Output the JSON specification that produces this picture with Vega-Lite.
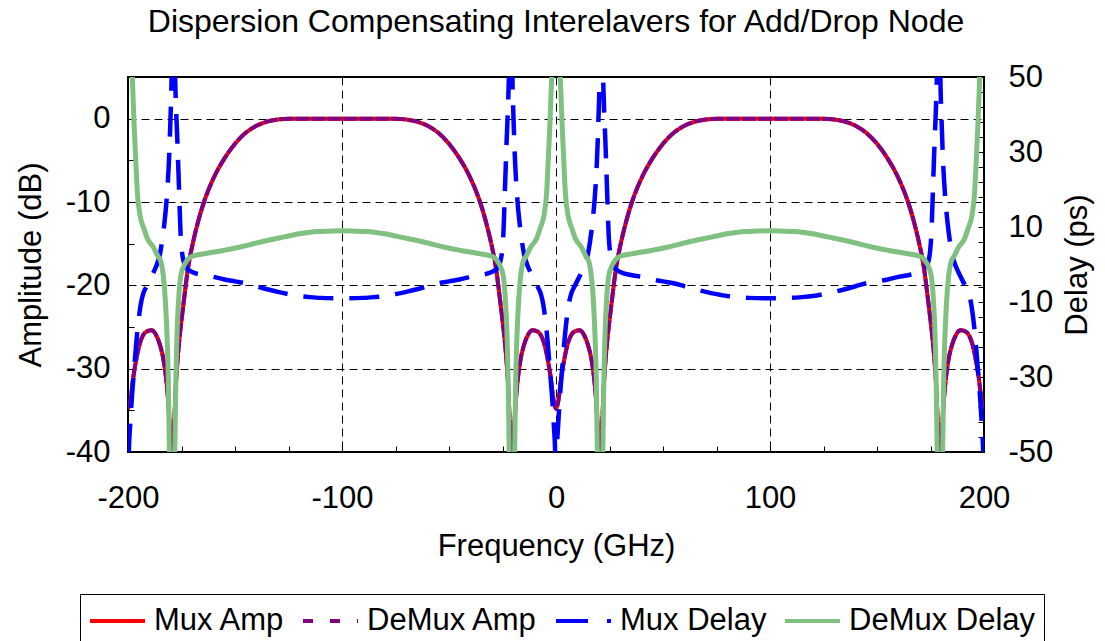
{
  "$schema": "https://vega.github.io/schema/vega-lite/v6.json",
  "width": 856,
  "height": 375,
  "autosize": {"type": "none"},
  "padding": {"left": 128, "top": 77, "right": 121, "bottom": 189},
  "background": "white",
  "title": {
    "text": "Dispersion Compensating Interelavers for Add/Drop Node",
    "font": "Liberation Sans",
    "fontSize": 32,
    "fontWeight": "normal",
    "color": "black",
    "anchor": "middle",
    "frame": "group",
    "offset": 22
  },
  "config": {
    "font": "Liberation Sans",
    "view": {"stroke": "black", "strokeWidth": 2},
    "axis": {
      "labelFont": "Liberation Sans",
      "labelFontSize": 31,
      "labelColor": "black",
      "titleFont": "Liberation Sans",
      "titleFontSize": 31,
      "titleFontWeight": "normal",
      "titleColor": "black",
      "domain": false,
      "tickSize": -6,
      "tickColor": "black",
      "tickWidth": 1,
      "gridColor": "black",
      "gridDash": [8, 5],
      "gridWidth": 1,
      "labelFlush": false,
      "labelOverlap": false
    },
    "legend": {
      "labelFont": "Liberation Sans",
      "labelFontSize": 31,
      "labelColor": "black",
      "labelLimit": 400
    }
  },
  "datasets": {
    "amp": [
      {"f": -200, "a": -34.8}, {"f": -199, "a": -34.0}, {"f": -197.5, "a": -31.0}, {"f": -196, "a": -28.7},
      {"f": -194.5, "a": -27.0}, {"f": -193, "a": -26.0}, {"f": -191, "a": -25.5}, {"f": -189, "a": -25.4},
      {"f": -187, "a": -25.9}, {"f": -185, "a": -27.2}, {"f": -183.5, "a": -28.8}, {"f": -182.5, "a": -30.5},
      {"f": -181.5, "a": -33}, {"f": -180.5, "a": -37}, {"f": -179.8, "a": -42}, {"f": -179.3, "a": -55},
      {"f": -178.8, "a": -42}, {"f": -178, "a": -34}, {"f": -177, "a": -29.5}, {"f": -176, "a": -26.5},
      {"f": -175, "a": -24.2}, {"f": -173.5, "a": -21}, {"f": -172, "a": -18}, {"f": -170, "a": -15.3},
      {"f": -167.5, "a": -12.6}, {"f": -164.5, "a": -10}, {"f": -162, "a": -8.3}, {"f": -159, "a": -6.6},
      {"f": -155, "a": -4.8}, {"f": -150, "a": -3.0}, {"f": -145, "a": -1.7}, {"f": -140, "a": -0.85},
      {"f": -135, "a": -0.35}, {"f": -130, "a": -0.1}, {"f": -125, "a": 0}, {"f": -120, "a": 0},
      {"f": -110, "a": 0}, {"f": -100, "a": 0},
      {"f": -90, "a": 0}, {"f": -80, "a": 0}, {"f": -75, "a": 0}, {"f": -70, "a": -0.1},
      {"f": -65, "a": -0.35}, {"f": -60, "a": -0.85}, {"f": -55, "a": -1.7}, {"f": -50, "a": -3.0},
      {"f": -45, "a": -4.8}, {"f": -41, "a": -6.6}, {"f": -38, "a": -8.3}, {"f": -35.5, "a": -10},
      {"f": -32.5, "a": -12.6}, {"f": -30, "a": -15.3}, {"f": -28, "a": -18}, {"f": -26.5, "a": -21},
      {"f": -25, "a": -24.2}, {"f": -24, "a": -26.5}, {"f": -23, "a": -29.5}, {"f": -22, "a": -34},
      {"f": -21.2, "a": -42}, {"f": -20.7, "a": -55}, {"f": -20.2, "a": -42}, {"f": -19.5, "a": -37},
      {"f": -18.5, "a": -33}, {"f": -17.5, "a": -30.5}, {"f": -16.5, "a": -28.8}, {"f": -15, "a": -27.2},
      {"f": -13, "a": -25.9}, {"f": -11, "a": -25.4}, {"f": -9, "a": -25.5}, {"f": -7, "a": -26.0},
      {"f": -5.5, "a": -27.0}, {"f": -4, "a": -28.7}, {"f": -2.5, "a": -31.0}, {"f": -1, "a": -34.0},
      {"f": 0, "a": -34.8},
      {"f": 1, "a": -34.0}, {"f": 2.5, "a": -31.0}, {"f": 4, "a": -28.7}, {"f": 5.5, "a": -27.0},
      {"f": 7, "a": -26.0}, {"f": 9, "a": -25.5}, {"f": 11, "a": -25.4}, {"f": 13, "a": -25.9},
      {"f": 15, "a": -27.2}, {"f": 16.5, "a": -28.8}, {"f": 17.5, "a": -30.5}, {"f": 18.5, "a": -33},
      {"f": 19.5, "a": -37}, {"f": 20.2, "a": -42}, {"f": 20.7, "a": -55}, {"f": 21.2, "a": -42},
      {"f": 22, "a": -34}, {"f": 23, "a": -29.5}, {"f": 24, "a": -26.5}, {"f": 25, "a": -24.2},
      {"f": 26.5, "a": -21}, {"f": 28, "a": -18}, {"f": 30, "a": -15.3}, {"f": 32.5, "a": -12.6},
      {"f": 35.5, "a": -10}, {"f": 38, "a": -8.3}, {"f": 41, "a": -6.6}, {"f": 45, "a": -4.8},
      {"f": 50, "a": -3.0}, {"f": 55, "a": -1.7}, {"f": 60, "a": -0.85}, {"f": 65, "a": -0.35},
      {"f": 70, "a": -0.1}, {"f": 75, "a": 0}, {"f": 80, "a": 0}, {"f": 90, "a": 0}, {"f": 100, "a": 0},
      {"f": 110, "a": 0}, {"f": 120, "a": 0}, {"f": 125, "a": 0}, {"f": 130, "a": -0.1},
      {"f": 135, "a": -0.35}, {"f": 140, "a": -0.85}, {"f": 145, "a": -1.7}, {"f": 150, "a": -3.0},
      {"f": 155, "a": -4.8}, {"f": 159, "a": -6.6}, {"f": 162, "a": -8.3}, {"f": 164.5, "a": -10},
      {"f": 167.5, "a": -12.6}, {"f": 170, "a": -15.3}, {"f": 172, "a": -18}, {"f": 173.5, "a": -21},
      {"f": 175, "a": -24.2}, {"f": 176, "a": -26.5}, {"f": 177, "a": -29.5}, {"f": 178, "a": -34},
      {"f": 178.8, "a": -42}, {"f": 179.3, "a": -55}, {"f": 179.8, "a": -42}, {"f": 180.5, "a": -37},
      {"f": 181.5, "a": -33}, {"f": 182.5, "a": -30.5}, {"f": 183.5, "a": -28.8}, {"f": 185, "a": -27.2},
      {"f": 187, "a": -25.9}, {"f": 189, "a": -25.4}, {"f": 191, "a": -25.5}, {"f": 193, "a": -26.0},
      {"f": 194.5, "a": -27.0}, {"f": 196, "a": -28.7}, {"f": 197.5, "a": -31.0}, {"f": 199, "a": -34.0},
      {"f": 200, "a": -34.8}
    ],
    "mux": [
      {"f": -200, "v": -75}, {"f": -199.6, "v": -50}, {"f": -199, "v": -43}, {"f": -198, "v": -34},
      {"f": -197, "v": -27}, {"f": -196, "v": -20}, {"f": -195, "v": -14.5}, {"f": -194, "v": -10.5},
      {"f": -193, "v": -8}, {"f": -191.5, "v": -6}, {"f": -190, "v": -4.3}, {"f": -188, "v": -2},
      {"f": -186.5, "v": 0}, {"f": -185, "v": 3}, {"f": -184, "v": 6.5}, {"f": -183, "v": 11},
      {"f": -182, "v": 17}, {"f": -181, "v": 26}, {"f": -180.2, "v": 38}, {"f": -179.5, "v": 55},
      {"f": -179.1, "v": 80}, {"f": -178.9, "v": 80}, {"f": -178.5, "v": 62}, {"f": -178, "v": 50},
      {"f": -177.5, "v": 41}, {"f": -177, "v": 34}, {"f": -176.2, "v": 21}, {"f": -175.4, "v": 8},
      {"f": -174.8, "v": 3.5}, {"f": -174, "v": 0.8}, {"f": -173, "v": -0.6}, {"f": -172, "v": -1.3},
      {"f": -170, "v": -2}, {"f": -165, "v": -2.8}, {"f": -160, "v": -3.3}, {"f": -155, "v": -4},
      {"f": -150, "v": -4.5}, {"f": -145, "v": -5}, {"f": -140, "v": -5.8}, {"f": -135, "v": -6.6},
      {"f": -130, "v": -7.3}, {"f": -125, "v": -7.9}, {"f": -120, "v": -8.4}, {"f": -115, "v": -8.7},
      {"f": -110, "v": -8.9}, {"f": -100, "v": -9},
      {"f": -90, "v": -8.9}, {"f": -85, "v": -8.7}, {"f": -80, "v": -8.4}, {"f": -75, "v": -7.9},
      {"f": -70, "v": -7.3}, {"f": -65, "v": -6.6}, {"f": -60, "v": -5.8}, {"f": -55, "v": -5},
      {"f": -50, "v": -4.5}, {"f": -45, "v": -4}, {"f": -40, "v": -3.3}, {"f": -35, "v": -2.8},
      {"f": -30, "v": -2}, {"f": -28, "v": -1.3}, {"f": -27, "v": -0.6}, {"f": -26, "v": 0.8},
      {"f": -25.2, "v": 3.5}, {"f": -24.6, "v": 8}, {"f": -23.8, "v": 21}, {"f": -23, "v": 34},
      {"f": -22.5, "v": 41}, {"f": -22, "v": 50}, {"f": -21.5, "v": 62}, {"f": -21.1, "v": 80},
      {"f": -20.9, "v": 80}, {"f": -20.5, "v": 55}, {"f": -19.8, "v": 38}, {"f": -19, "v": 26},
      {"f": -18, "v": 17}, {"f": -17, "v": 11}, {"f": -16, "v": 6.5}, {"f": -15, "v": 3},
      {"f": -13.5, "v": 0}, {"f": -12, "v": -2}, {"f": -10, "v": -4.3}, {"f": -8.5, "v": -6},
      {"f": -7, "v": -8}, {"f": -6, "v": -10.5}, {"f": -5, "v": -14.5}, {"f": -4, "v": -20},
      {"f": -3, "v": -27}, {"f": -2, "v": -34}, {"f": -1, "v": -43}, {"f": -0.4, "v": -50},
      {"f": 0, "v": -75},
      {"f": 0.4, "v": -50}, {"f": 1, "v": -43}, {"f": 2, "v": -34}, {"f": 3, "v": -27},
      {"f": 4, "v": -20}, {"f": 5, "v": -14.5}, {"f": 6, "v": -10.5}, {"f": 7, "v": -8},
      {"f": 8.5, "v": -6}, {"f": 10, "v": -4.3}, {"f": 12, "v": -2}, {"f": 13.5, "v": 0},
      {"f": 15, "v": 3}, {"f": 16, "v": 6.5}, {"f": 17, "v": 11}, {"f": 18, "v": 17},
      {"f": 19, "v": 26}, {"f": 19.8, "v": 38}, {"f": 20.5, "v": 55}, {"f": 20.9, "v": 80},
      {"f": 21.1, "v": 80}, {"f": 21.5, "v": 62}, {"f": 22, "v": 50}, {"f": 22.5, "v": 41},
      {"f": 23, "v": 34}, {"f": 23.8, "v": 21}, {"f": 24.6, "v": 8}, {"f": 25.2, "v": 3.5},
      {"f": 26, "v": 0.8}, {"f": 27, "v": -0.6}, {"f": 28, "v": -1.3}, {"f": 30, "v": -2},
      {"f": 35, "v": -2.8}, {"f": 40, "v": -3.3}, {"f": 45, "v": -4}, {"f": 50, "v": -4.5},
      {"f": 55, "v": -5}, {"f": 60, "v": -5.8}, {"f": 65, "v": -6.6}, {"f": 70, "v": -7.3},
      {"f": 75, "v": -7.9}, {"f": 80, "v": -8.4}, {"f": 85, "v": -8.7}, {"f": 90, "v": -8.9},
      {"f": 100, "v": -9},
      {"f": 110, "v": -8.9}, {"f": 115, "v": -8.7}, {"f": 120, "v": -8.4}, {"f": 125, "v": -7.9},
      {"f": 130, "v": -7.3}, {"f": 135, "v": -6.6}, {"f": 140, "v": -5.8}, {"f": 145, "v": -5},
      {"f": 150, "v": -4.5}, {"f": 155, "v": -4}, {"f": 160, "v": -3.3}, {"f": 165, "v": -2.8},
      {"f": 170, "v": -2}, {"f": 172, "v": -1.3}, {"f": 173, "v": -0.6}, {"f": 174, "v": 0.8},
      {"f": 174.8, "v": 3.5}, {"f": 175.4, "v": 8}, {"f": 176.2, "v": 21}, {"f": 177, "v": 34},
      {"f": 177.5, "v": 41}, {"f": 178, "v": 50}, {"f": 178.5, "v": 62}, {"f": 178.9, "v": 80},
      {"f": 179.1, "v": 80}, {"f": 179.5, "v": 55}, {"f": 180.2, "v": 38}, {"f": 181, "v": 26},
      {"f": 182, "v": 17}, {"f": 183, "v": 11}, {"f": 184, "v": 6.5}, {"f": 185, "v": 3},
      {"f": 186.5, "v": 0}, {"f": 188, "v": -2}, {"f": 190, "v": -4.3}, {"f": 191.5, "v": -6},
      {"f": 193, "v": -8}, {"f": 194, "v": -10.5}, {"f": 195, "v": -14.5}, {"f": 196, "v": -20},
      {"f": 197, "v": -27}, {"f": 198, "v": -34}, {"f": 199, "v": -43}, {"f": 199.6, "v": -50},
      {"f": 200, "v": -75}
    ],
    "demux": [
      {"f": -200, "v": 90}, {"f": -198.5, "v": 58}, {"f": -197.2, "v": 38}, {"f": -196.4, "v": 28},
      {"f": -195.6, "v": 19}, {"f": -194.5, "v": 13.5}, {"f": -192.5, "v": 9.5}, {"f": -191, "v": 7},
      {"f": -188, "v": 4.5}, {"f": -186.3, "v": 2.5}, {"f": -184.5, "v": 0.5}, {"f": -183.5, "v": -3},
      {"f": -182.5, "v": -10}, {"f": -181.7, "v": -20}, {"f": -181.2, "v": -30}, {"f": -180.8, "v": -45},
      {"f": -180.4, "v": -60}, {"f": -179.4, "v": -95}, {"f": -178.4, "v": -60}, {"f": -178, "v": -45},
      {"f": -177.6, "v": -30}, {"f": -177, "v": -17}, {"f": -176.2, "v": -8}, {"f": -175.4, "v": -3.2},
      {"f": -174, "v": -0.5}, {"f": -172.3, "v": 1.2}, {"f": -170, "v": 2.2}, {"f": -163, "v": 3},
      {"f": -155, "v": 3.8}, {"f": -148, "v": 4.6}, {"f": -141, "v": 5.6}, {"f": -135, "v": 6.4},
      {"f": -130, "v": 7}, {"f": -125, "v": 7.6}, {"f": -120, "v": 8.2}, {"f": -115, "v": 8.6},
      {"f": -110, "v": 8.8}, {"f": -100, "v": 9},
      {"f": -90, "v": 8.8}, {"f": -85, "v": 8.6}, {"f": -80, "v": 8.2}, {"f": -75, "v": 7.6},
      {"f": -70, "v": 7}, {"f": -65, "v": 6.4}, {"f": -59, "v": 5.6}, {"f": -52, "v": 4.6},
      {"f": -45, "v": 3.8}, {"f": -37, "v": 3}, {"f": -30, "v": 2.2}, {"f": -27.7, "v": 1.2},
      {"f": -26, "v": -0.5}, {"f": -24.6, "v": -3.2}, {"f": -23.8, "v": -8}, {"f": -23, "v": -17},
      {"f": -22.4, "v": -30}, {"f": -22, "v": -45}, {"f": -21.6, "v": -60}, {"f": -20.6, "v": -95},
      {"f": -19.6, "v": -60}, {"f": -19.2, "v": -45}, {"f": -18.8, "v": -30}, {"f": -18.3, "v": -20},
      {"f": -17.5, "v": -10}, {"f": -16.5, "v": -3}, {"f": -15.5, "v": 0.5}, {"f": -13.7, "v": 2.5},
      {"f": -12, "v": 4.5}, {"f": -9, "v": 7}, {"f": -7.5, "v": 9.5}, {"f": -5.5, "v": 13.5},
      {"f": -4.4, "v": 19}, {"f": -3.6, "v": 28}, {"f": -2.8, "v": 38}, {"f": -1.5, "v": 58},
      {"f": 0, "v": 90},
      {"f": 1.5, "v": 58}, {"f": 2.8, "v": 38}, {"f": 3.6, "v": 28}, {"f": 4.4, "v": 19},
      {"f": 5.5, "v": 13.5}, {"f": 7.5, "v": 9.5}, {"f": 9, "v": 7}, {"f": 12, "v": 4.5},
      {"f": 13.7, "v": 2.5}, {"f": 15.5, "v": 0.5}, {"f": 16.5, "v": -3}, {"f": 17.5, "v": -10},
      {"f": 18.3, "v": -20}, {"f": 18.8, "v": -30}, {"f": 19.2, "v": -45}, {"f": 19.6, "v": -60},
      {"f": 20.6, "v": -95}, {"f": 21.6, "v": -60}, {"f": 22, "v": -45}, {"f": 22.4, "v": -30},
      {"f": 23, "v": -17}, {"f": 23.8, "v": -8}, {"f": 24.6, "v": -3.2}, {"f": 26, "v": -0.5},
      {"f": 27.7, "v": 1.2}, {"f": 30, "v": 2.2}, {"f": 37, "v": 3}, {"f": 45, "v": 3.8},
      {"f": 52, "v": 4.6}, {"f": 59, "v": 5.6}, {"f": 65, "v": 6.4}, {"f": 70, "v": 7},
      {"f": 75, "v": 7.6}, {"f": 80, "v": 8.2}, {"f": 85, "v": 8.6}, {"f": 90, "v": 8.8},
      {"f": 100, "v": 9},
      {"f": 110, "v": 8.8}, {"f": 115, "v": 8.6}, {"f": 120, "v": 8.2}, {"f": 125, "v": 7.6},
      {"f": 130, "v": 7}, {"f": 135, "v": 6.4}, {"f": 141, "v": 5.6}, {"f": 148, "v": 4.6},
      {"f": 155, "v": 3.8}, {"f": 163, "v": 3}, {"f": 170, "v": 2.2}, {"f": 172.3, "v": 1.2},
      {"f": 174, "v": -0.5}, {"f": 175.4, "v": -3.2}, {"f": 176.2, "v": -8}, {"f": 177, "v": -17},
      {"f": 177.6, "v": -30}, {"f": 178, "v": -45}, {"f": 178.4, "v": -60}, {"f": 179.4, "v": -95},
      {"f": 180.4, "v": -60}, {"f": 180.8, "v": -45}, {"f": 181.2, "v": -30}, {"f": 181.7, "v": -20},
      {"f": 182.5, "v": -10}, {"f": 183.5, "v": -3}, {"f": 184.5, "v": 0.5}, {"f": 186.3, "v": 2.5},
      {"f": 188, "v": 4.5}, {"f": 191, "v": 7}, {"f": 192.5, "v": 9.5}, {"f": 194.5, "v": 13.5},
      {"f": 195.6, "v": 19}, {"f": 196.4, "v": 28}, {"f": 197.2, "v": 38}, {"f": 198.5, "v": 58},
      {"f": 200, "v": 90}
    ]
  },
  "encoding": {
    "x": {
      "field": "f",
      "type": "quantitative",
      "scale": {"domain": [-200, 200], "nice": false, "zero": false},
      "axis": {
        "title": "Frequency (GHz)",
        "values": [-200, -175, -150, -125, -100, -75, -50, -25, 0, 25, 50, 75, 100, 125, 150, 175, 200],
        "labelExpr": "datum.value % 100 === 0 ? '' + datum.value : ''",
        "labelPadding": 37,
        "titlePadding": 18,
        "grid": true,
        "gridOpacity": {"condition": {"test": "datum.value % 100 === 0 && abs(datum.value) < 200", "value": 1}, "value": 0}
      }
    }
  },
  "layer": [
    {
      "encoding": {
        "y": {
          "field": "a",
          "type": "quantitative",
          "scale": {"domain": [-40, 5], "nice": false, "zero": false},
          "axis": {
            "orient": "left",
            "title": "Amplitude (dB)",
            "values": [-40, -35, -30, -25, -20, -15, -10, -5, 0],
            "labelExpr": "datum.value % 10 === 0 ? '' + datum.value : ''",
            "labelPadding": 24,
            "titlePadding": 18,
            "grid": true,
            "gridOpacity": {"condition": {"test": "datum.value % 10 === 0 && datum.value > -40", "value": 1}, "value": 0}
          }
        }
      },
      "layer": [
        {
          "data": {"name": "amp"},
          "mark": {"type": "line", "clip": true, "strokeWidth": 4, "interpolate": "monotone"},
          "encoding": {
            "color": {
              "datum": "Mux Amp",
              "type": "nominal",
              "scale": {
                "domain": ["Mux Amp", "DeMux Amp", "Mux Delay", "DeMux Delay"],
                "range": ["#FF0000", "#800080", "#0000FF", "#80C080"]
              },
              "legend": {
                "title": null,
                "orient": "none",
                "direction": "horizontal",
                "columns": 4,
                "legendX": -48,
                "legendY": 517,
                "padding": 8,
                "clipHeight": 38,
                "strokeColor": "black",
                "fillColor": "white",
                "symbolType": "stroke",
                "symbolSize": 3025,
                "symbolStrokeWidth": 4,
                "labelOffset": 7,
                "columnPadding": 16,
                "encode": {
                  "symbols": {
                    "update": {
                      "strokeDash": {"signal": "datum.value === 'DeMux Amp' ? [10, 17] : datum.value === 'Mux Delay' ? [32, 19] : [1, 0]"}
                    }
                  }
                }
              }
            }
          }
        },
        {
          "data": {"name": "amp"},
          "mark": {"type": "line", "clip": true, "strokeWidth": 4, "strokeDash": [14, 2], "interpolate": "monotone"},
          "encoding": {"color": {"datum": "DeMux Amp", "type": "nominal"}}
        }
      ]
    },
    {
      "encoding": {
        "y": {
          "field": "v",
          "type": "quantitative",
          "scale": {"domain": [-50, 50], "nice": false, "zero": false},
          "axis": {
            "orient": "right",
            "title": "Delay (ps)",
            "titleAngle": 270,
            "titleBaseline": "top",
            "values": [-50, -46, -42, -38, -34, -30, -26, -22, -18, -14, -10, -6, -2, 2, 6, 10, 14, 18, 22, 26, 30, 34, 38, 42, 46, 50],
            "labelExpr": "(datum.value + 50) % 20 === 0 ? '' + datum.value : ''",
            "labelPadding": 30,
            "titlePadding": 10,
            "grid": false
          }
        }
      },
      "layer": [
        {
          "data": {"name": "mux"},
          "mark": {"type": "line", "clip": true, "strokeWidth": 4.5, "strokeDash": [30, 16], "interpolate": "monotone"},
          "encoding": {"color": {"datum": "Mux Delay", "type": "nominal"}}
        },
        {
          "data": {"name": "demux"},
          "mark": {"type": "line", "clip": true, "strokeWidth": 5, "interpolate": "monotone"},
          "encoding": {"color": {"datum": "DeMux Delay", "type": "nominal"}}
        }
      ]
    }
  ],
  "resolve": {"scale": {"y": "independent"}}
}
